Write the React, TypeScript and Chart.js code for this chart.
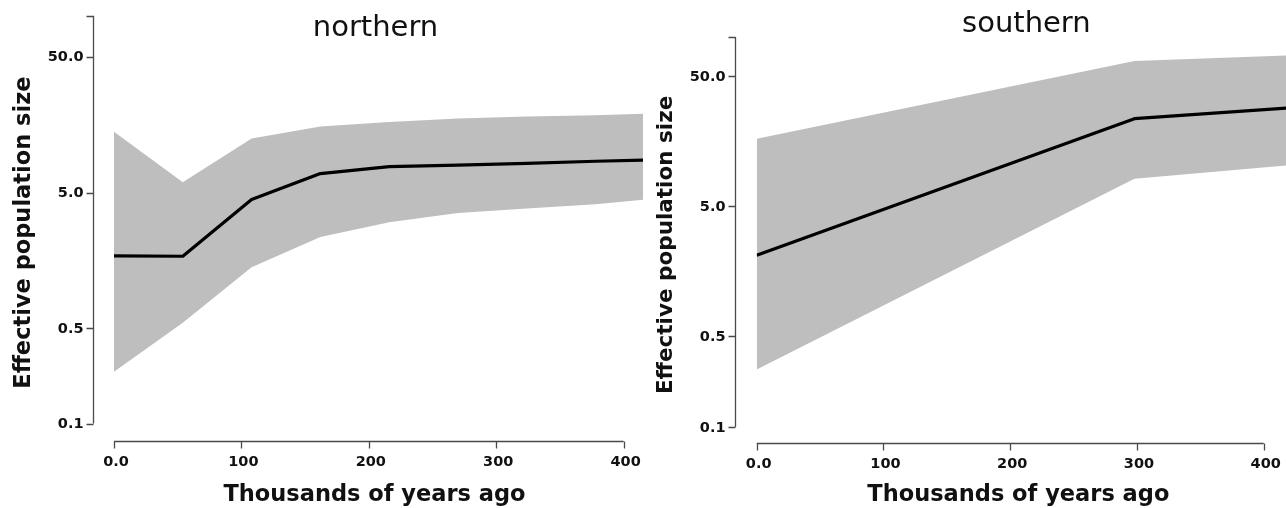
import React, { useEffect, useRef } from 'react';
import { Chart, registerables } from 'chart.js';

Chart.register(...registerables);

// ---------- data ----------
const northernYears = [0, 54, 108, 162, 216, 270, 324, 378, 416];
const northernMedian = [1.71, 1.7, 4.44, 6.9, 7.75, 7.95, 8.2, 8.5, 8.65];
const northernUpper = [14.0, 5.95, 12.5, 15.3, 16.5, 17.5, 18.1, 18.5, 19.0];
const northernLower = [0.24, 0.55, 1.41, 2.36, 3.02, 3.54, 3.81, 4.1, 4.44];

const southernYears = [0, 298, 419];
const southernMedian = [2.09, 23.5, 28.4];
const southernUpper = [16.5, 65.2, 72.0];
const southernLower = [0.276, 8.1, 10.3];

const xTickValues = [0, 100, 200, 300, 400];
const xTickLabels = ['0.0', '100', '200', '300', '400'];
const yTickValues = [0.1, 0.5, 5, 50, 100];
const yTickLabels = ['0.1', '0.5', '5.0', '50.0', ''];

const xAxisTitle = 'Thousands of years ago';
const yAxisTitle = 'Effective population size';

// ---------- styles ----------
const FONT = '"DejaVu Sans", "Liberation Sans", sans-serif';
const BAND_COLOR = '#bebebe';
const LINE_COLOR = '#000000';
const AXIS_COLOR = '#4a4a4a';
const TEXT_COLOR = '#111111';

type PanelCfg = {
  title: string;
  years: number[];
  median: number[];
  upper: number[];
  lower: number[];
  left: number;
  xMax: number;
  padding: { left: number; right: number; top: number; bottom: number };
  yAxisGap: number;
  xAxisGap: number;
  titleDx: number;
  titleY: number;
  xTitleY: number;
  yTitleX: number;
  yTitleDy: number;
  xTitleDx: number;
  yTitleSize: number;
};

const panels: PanelCfg[] = [
  {
    title: 'northern',
    years: northernYears,
    median: northernMedian,
    upper: northernUpper,
    lower: northernLower,
    left: 0,
    xMax: 415.2,
    padding: { left: 114, right: 0, top: 15.7, bottom: 84.5 },
    yAxisGap: 21,
    xAxisGap: 17,
    titleDx: -3,
    titleY: 28,
    xTitleY: 495,
    yTitleX: 24,
    yTitleDy: 13,
    xTitleDx: -4,
    yTitleSize: 22.5,
  },
  {
    title: 'southern',
    years: southernYears,
    median: southernMedian,
    upper: southernUpper,
    lower: southernLower,
    left: 643,
    xMax: 417.6,
    padding: { left: 113.7, right: 0, top: 36.9, bottom: 81.1 },
    yAxisGap: 22,
    xAxisGap: 16,
    titleDx: 5,
    titleY: 24,
    xTitleY: 495,
    yTitleX: 23,
    yTitleDy: 13,
    xTitleDx: -3,
    yTitleSize: 21.5,
  },
];

function axesPlugin(cfg: PanelCfg) {
  return {
    id: 'rStyleAxes',
    afterDraw(chart: any) {
      const { ctx, chartArea, scales } = chart;
      const xs = scales.x;
      const ys = scales.y;
      ctx.save();
      ctx.strokeStyle = AXIS_COLOR;
      ctx.lineWidth = 1.3;

      // y axis
      const ax = Math.round(chartArea.left - cfg.yAxisGap) + 0.5;
      const yTop = ys.getPixelForValue(yTickValues[yTickValues.length - 1]);
      const yBot = ys.getPixelForValue(yTickValues[0]);
      ctx.beginPath();
      ctx.moveTo(ax, yBot);
      ctx.lineTo(ax, yTop);
      yTickValues.forEach((v) => {
        const p = Math.round(ys.getPixelForValue(v)) + 0.5;
        ctx.moveTo(ax, p);
        ctx.lineTo(ax - 7, p);
      });
      ctx.stroke();

      // x axis
      const ay = Math.round(chartArea.bottom + cfg.xAxisGap) + 0.5;
      const xL = xs.getPixelForValue(xTickValues[0]);
      const xR = xs.getPixelForValue(xTickValues[xTickValues.length - 1]);
      ctx.beginPath();
      ctx.moveTo(xL, ay);
      ctx.lineTo(xR, ay);
      xTickValues.forEach((v) => {
        const p = Math.round(xs.getPixelForValue(v)) + 0.5;
        ctx.moveTo(p, ay);
        ctx.lineTo(p, ay + 7);
      });
      ctx.stroke();

      // tick labels
      ctx.fillStyle = TEXT_COLOR;
      ctx.font = `bold 14.5px ${FONT}`;
      ctx.textAlign = 'right';
      ctx.textBaseline = 'middle';
      yTickValues.forEach((v, i) => {
        if (!yTickLabels[i]) return;
        ctx.fillText(yTickLabels[i], ax - 10, ys.getPixelForValue(v) + 1);
      });
      ctx.textAlign = 'center';
      xTickValues.forEach((v, i) => {
        ctx.fillText(xTickLabels[i], xs.getPixelForValue(v) + 2, ay + 21);
      });

      // axis titles
      const midX = (chartArea.left + chartArea.right) / 2;
      const midY = (chartArea.top + chartArea.bottom) / 2;
      ctx.font = `bold 22.5px ${FONT}`;
      ctx.textAlign = 'center';
      ctx.textBaseline = 'middle';
      ctx.fillText(xAxisTitle, midX + cfg.xTitleDx, cfg.xTitleY);

      ctx.save();
      ctx.translate(cfg.yTitleX, midY + cfg.yTitleDy);
      ctx.rotate(-Math.PI / 2);
      ctx.font = `bold ${cfg.yTitleSize}px ${FONT}`;
      ctx.fillText(yAxisTitle, 0, 0);
      ctx.restore();

      // panel title
      ctx.font = `29px ${FONT}`;
      ctx.fillText(cfg.title, midX + cfg.titleDx, cfg.titleY);
      ctx.restore();
    },
  };
}

function Panel({ cfg }: { cfg: PanelCfg }) {
  const ref = useRef<HTMLCanvasElement>(null);
  useEffect(() => {
    const pts = (arr: number[]) => arr.map((y, i) => ({ x: cfg.years[i], y }));
    const chart = new Chart(ref.current as HTMLCanvasElement, {
      type: 'line',
      data: {
        datasets: [
          {
            label: 'median',
            data: pts(cfg.median),
            borderColor: LINE_COLOR,
            borderWidth: 3.2,
            borderJoinStyle: 'round',
            pointRadius: 0,
            fill: false,
          },
          {
            label: 'upper',
            data: pts(cfg.upper),
            borderColor: 'transparent',
            borderWidth: 0,
            backgroundColor: BAND_COLOR,
            pointRadius: 0,
            fill: '+1',
          },
          {
            label: 'lower',
            data: pts(cfg.lower),
            borderColor: 'transparent',
            borderWidth: 0,
            pointRadius: 0,
            fill: false,
          },
        ],
      },
      options: {
        animation: false,
        responsive: false,
        devicePixelRatio: 1,
        events: [],
        layout: { padding: cfg.padding },
        plugins: {
          legend: { display: false },
          tooltip: { enabled: false },
          title: { display: false },
        },
        scales: {
          x: { type: 'linear', min: 0, max: cfg.xMax, display: false },
          y: { type: 'logarithmic', min: 0.1, max: 100, display: false },
        },
      },
      plugins: [axesPlugin(cfg)],
    } as any);
    return () => chart.destroy();
  }, [cfg]);
  return (
    <canvas
      ref={ref}
      width={643}
      height={508}
      style={{ position: 'absolute', left: cfg.left, top: 0, width: 643, height: 508 }}
    />
  );
}

export default function App() {
  return (
    <div
      style={{
        position: 'fixed',
        left: 0,
        top: 0,
        width: 1286,
        height: 508,
        background: '#ffffff',
        overflow: 'hidden',
      }}
    >
      {panels.map((p) => (
        <Panel key={p.title} cfg={p} />
      ))}
    </div>
  );
}
